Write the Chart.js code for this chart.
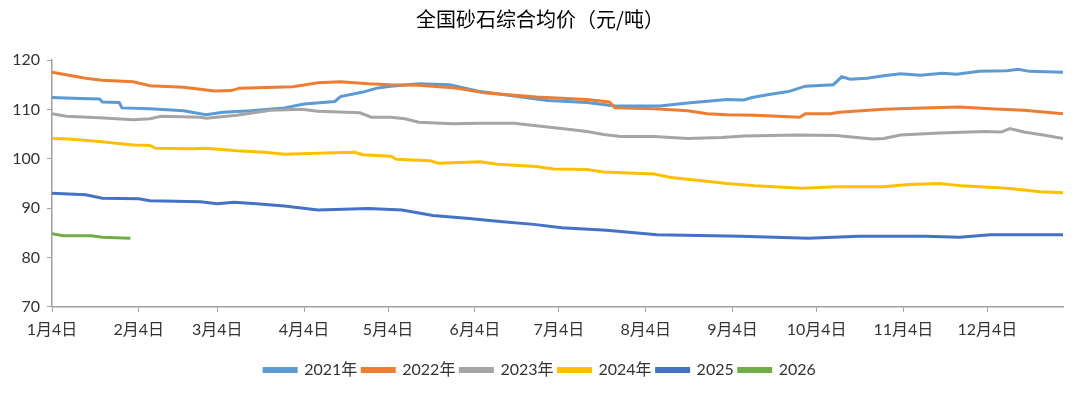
<!DOCTYPE html>
<html>
<head>
<meta charset="utf-8">
<title>全国砂石综合均价</title>
<script src="https://cdn.jsdelivr.net/npm/chart.js@4/dist/chart.umd.min.js"></script>
<style>
  html, body { margin: 0; padding: 0; background: #fff; }
  canvas { display: block; }
</style>
</head>
<body>
<canvas id="priceChart" width="1080" height="396"></canvas>
<script>
/**
 * 全国砂石综合均价 - yearly curves on one Jan..Dec axis
 * x = days counted from Jan 4
 */

// Axis ticks
const tickDays = [0, 31, 59, 90, 120, 151, 181, 212, 243, 273, 304, 334];
const tickLabels = ['1月4日', '2月4日', '3月4日', '4月4日', '5月4日', '6月4日',
    '7月4日', '8月4日', '9月4日', '10月4日', '11月4日', '12月4日'];
const yTicks = [70, 80, 90, 100, 110, 120];

const seriesNames = ['2021年', '2022年', '2023年', '2024年', '2025', '2026'];
const seriesColors = ['#5B9BD5', '#ED7D31', '#A5A5A5', '#FFC000', '#4472C4', '#70AD47'];

// Values
const days2021 = [0, 10, 17, 18, 24, 25, 35, 47, 55, 61, 71, 83, 90, 101, 103, 111, 116, 121, 131, 142,
    153, 161, 177, 191, 201, 217, 227, 241, 247, 250, 256, 263, 269, 279, 282, 285, 291, 297, 303, 310,
    318, 323, 331, 341, 345, 349, 361];
const price2021 = [112.4, 112.2, 112.1, 111.5, 111.4, 110.3, 110.1, 109.7, 108.9, 109.4, 109.7, 110.3, 111.1,
    111.6, 112.6, 113.5, 114.3, 114.7, 115.2, 115.0, 113.6, 113.0, 111.8, 111.4, 110.7, 110.7, 111.3, 112.0,
    111.9, 112.4, 113.0, 113.6, 114.7, 115.0, 116.6, 116.1, 116.3, 116.8, 117.2, 116.9, 117.3, 117.1, 117.7,
    117.8, 118.1, 117.7, 117.5];

const days2022 = [0, 7, 12, 18, 29, 35, 47, 58, 64, 67, 86, 95, 103, 113, 121, 131, 143, 155, 173, 191,
    199, 201, 215, 227, 234, 241, 251, 267, 269, 278, 281, 297, 311, 324, 335, 347, 361];
const price2022 = [117.5, 116.8, 116.3, 115.9, 115.6, 114.8, 114.5, 113.7, 113.8, 114.3, 114.6, 115.4, 115.6,
    115.2, 115.0, 114.9, 114.4, 113.3, 112.5, 112.0, 111.5, 110.3, 110.1, 109.7, 109.1, 108.9, 108.8, 108.4,
    109.1, 109.1, 109.4, 110.0, 110.3, 110.5, 110.1, 109.8, 109.1];

const days2023 = [0, 5, 17, 29, 35, 39, 53, 55, 66, 78, 89, 95, 110, 114, 121, 126, 131, 143, 153, 165,
    173, 185, 191, 197, 203, 215, 227, 239, 247, 266, 280, 293, 297, 303, 317, 333, 339, 342, 347, 354, 361];
const price2023 = [109.1, 108.6, 108.3, 107.9, 108.1, 108.6, 108.4, 108.2, 108.8, 109.8, 110.0, 109.6, 109.3,
    108.4, 108.4, 108.1, 107.4, 107.1, 107.2, 107.2, 106.7, 105.9, 105.5, 104.9, 104.5, 104.5, 104.1, 104.3,
    104.6, 104.8, 104.7, 104.0, 104.1, 104.8, 105.2, 105.5, 105.4, 106.1, 105.4, 104.8, 104.1];

const days2024 = [0, 6, 17, 29, 35, 37, 50, 55, 66, 76, 83, 101, 108, 111, 121, 123, 135, 138, 153, 159,
    173, 179, 191, 197, 215, 221, 233, 241, 251, 268, 280, 297, 306, 317, 325, 341, 353, 361];
const price2024 = [104.1, 104.0, 103.5, 102.8, 102.7, 102.1, 102.0, 102.1, 101.6, 101.3, 100.9, 101.2, 101.3,
    100.8, 100.5, 99.9, 99.6, 99.1, 99.4, 98.9, 98.4, 97.9, 97.8, 97.3, 96.9, 96.2, 95.5, 95.0, 94.5, 94.0,
    94.3, 94.3, 94.8, 95.0, 94.5, 94.0, 93.3, 93.1];

const days2025 = [0, 12, 18, 31, 35, 53, 59, 65, 73, 83, 95, 113, 125, 136, 149, 160, 172, 182, 198, 216,
    246, 270, 288, 312, 324, 335, 348, 361];
const price2025 = [93.0, 92.7, 92.0, 91.9, 91.5, 91.3, 90.9, 91.2, 90.9, 90.4, 89.6, 89.9, 89.6, 88.5, 87.9,
    87.3, 86.7, 86.0, 85.5, 84.6, 84.3, 83.9, 84.3, 84.3, 84.1, 84.6, 84.6, 84.6];

const days2026 = [0, 4, 14, 18, 28];
const price2026 = [84.8, 84.4, 84.4, 84.1, 83.9];

const allDays = [days2021, days2022, days2023, days2024, days2025, days2026];
const allPrices = [price2021, price2022, price2023, price2024, price2025, price2026];

const FONT = "Lato, 'Noto Sans CJK SC', sans-serif";
const AXIS_COLOR = '#A0A0A0';
const TEXT_COLOR = '#333333';

/**
 * Build one line dataset from a days / price pair
 */
function buildDataset(i) {
    return {
        label: seriesNames[i],
        data: allDays[i].map((d, k) => ({ x: d, y: allPrices[i][k] })),
        borderColor: seriesColors[i],
        backgroundColor: seriesColors[i],
        borderWidth: 3,
        pointRadius: 0,
        tension: 0,
        // later years painted on top, like the office chart
        order: seriesNames.length - i,
    };
}

const ctx = document.getElementById('priceChart').getContext('2d');
new Chart(ctx, {
    type: 'line',
    data: {
        datasets: seriesNames.map((_, i) => buildDataset(i)),
    },
    options: {
        responsive: false,
        animation: false,
        devicePixelRatio: 1,
        layout: {
            padding: { top: 0, right: 0, bottom: 8, left: 0 }
        },
        plugins: {
            title: {
                display: true,
                text: '全国砂石综合均价（元/吨）',
                color: '#000',
                font: { family: "'Noto Sans CJK SC', sans-serif", size: 20, weight: 'normal' },
                padding: { top: 7, bottom: 29 }
            },
            legend: {
                position: 'bottom',
                labels: {
                    boxWidth: 32,
                    boxHeight: 3,
                    padding: 5,
                    color: TEXT_COLOR,
                    font: { family: FONT, size: 16 },
                    sort: (a, b) => a.datasetIndex - b.datasetIndex
                }
            },
            tooltip: { enabled: false }
        },
        scales: {
            x: {
                type: 'linear',
                min: 0,
                max: 361,
                afterBuildTicks: (axis) => {
                    axis.ticks = tickDays.map(v => ({ value: v }));
                },
                afterFit: (axis) => {
                    // keep a gap between month labels and the legend
                    axis.height += 10;
                },
                ticks: {
                    autoSkip: false,
                    maxRotation: 0,
                    padding: 8,
                    color: TEXT_COLOR,
                    font: { family: FONT, size: 16 },
                    callback: (value) => tickLabels[tickDays.indexOf(value)]
                },
                grid: {
                    drawOnChartArea: false,
                    drawTicks: true,
                    tickLength: 5,
                    color: AXIS_COLOR
                },
                border: { display: true, color: AXIS_COLOR, width: 1.5 }
            },
            y: {
                min: 70,
                max: 120,
                afterBuildTicks: (axis) => {
                    axis.ticks = yTicks.map(v => ({ value: v }));
                },
                afterFit: (axis) => {
                    axis.width = 52;
                },
                ticks: {
                    padding: 7,
                    color: TEXT_COLOR,
                    font: { family: FONT, size: 16 }
                },
                grid: {
                    drawOnChartArea: false,
                    drawTicks: true,
                    tickLength: 5,
                    color: AXIS_COLOR
                },
                border: { display: true, color: AXIS_COLOR, width: 1.5 }
            },
            // empty right-hand box, only reserves the margin on the right
            spacer: {
                type: 'linear',
                position: 'right',
                afterFit: (axis) => {
                    axis.width = 17;
                },
                ticks: { display: false },
                grid: { display: false },
                border: { display: false }
            }
        }
    }
});
</script>
</body>
</html>
